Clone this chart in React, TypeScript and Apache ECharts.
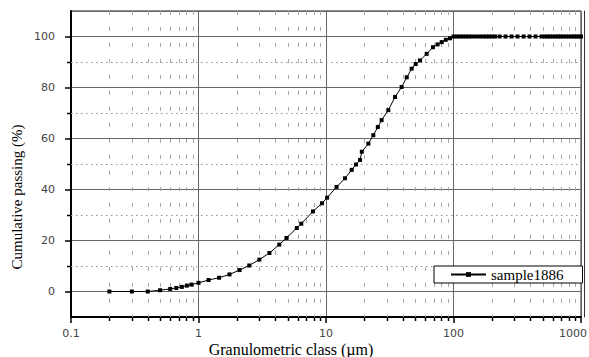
import React, { useEffect, useRef } from 'react';
import * as echarts from 'echarts';

// Granulometric class (µm)
const sizes = [
  0.2, 0.3, 0.4, 0.5, 0.6, 0.67, 0.74, 0.81, 0.88, 1.0,
  1.2, 1.45, 1.75, 2.1, 2.5, 3.0, 3.6, 4.3, 4.9, 5.9,
  6.4, 7.9, 9.3, 10.2, 12.1, 14.1, 15.9, 17.2, 18.5, 19.1,
  21.5, 23.5, 25.5, 27.3, 30.8, 34.8, 39.2, 43, 47, 50.5,
  54.6, 61.6, 69, 75, 80.8, 87, 93.9, 100, 106, 112,
  118, 125, 132, 140, 150, 160, 170, 180, 190, 200,
  212, 230, 256, 285, 318, 355, 395, 440, 490, 520,
  545, 570, 600, 630, 660, 690, 720, 760, 800, 840,
  880, 920, 960, 1000,
];
// Cumulative passing (%)
const passing = [
  0, 0, 0, 0.5, 1.0, 1.4, 1.8, 2.3, 2.7, 3.4,
  4.5, 5.4, 6.7, 8.4, 10.2, 12.5, 15.1, 18.4, 21.0, 24.9,
  26.6, 31.4, 34.6, 36.8, 41.0, 44.4, 47.7, 49.8, 51.6, 54.8,
  58.0, 61.3, 64.5, 67.2, 71.1, 76.3, 80.2, 84.0, 87.4, 89.2,
  90.6, 93.2, 95.8, 96.9, 97.8, 98.7, 99.3, 100, 100, 100,
  100, 100, 100, 100, 100, 100, 100, 100, 100, 100,
  100, 100, 100, 100, 100, 100, 100, 100, 100, 100,
  100, 100, 100, 100, 100, 100, 100, 100, 100, 100,
  100, 100, 100, 100,
];
const seriesName = 'sample1886';
const xTickLabels = ['0.1', '1', '10', '100', '1000'];
const minorX = [
  0.2, 0.3, 0.4, 0.5, 0.6, 0.7, 0.8, 0.9,
  2, 3, 4, 5, 6, 7, 8, 9,
  20, 30, 40, 50, 60, 70, 80, 90,
  200, 300, 400, 500, 600, 700, 800, 900,
];
const minorY = [10, 30, 50, 70, 90];
const xTitle = 'Granulometric class (µm)';
const yTitle = 'Cumulative passing (%)';

const serif = '"Liberation Serif", "Times New Roman", serif';
const sans = '"DejaVu Sans", Arial, sans-serif';

export default function App() {
  const ref = useRef<HTMLDivElement>(null);
  useEffect(() => {
    const chart = echarts.init(ref.current!, null, { renderer: 'svg' });
    const crisp = (v: number) => Math.round(v) + 0.5;
    chart.setOption({
      animation: false,
      backgroundColor: '#fff',
      grid: {
        left: 71, top: 11, width: 510, height: 306,
        show: true, borderColor: '#222', borderWidth: 1,
        containLabel: false, outerBoundsMode: 'none',
      },
      xAxis: [{
        type: 'log', logBase: 10, min: 0.1, max: 1000,
        axisLine: { show: true, onZero: false, lineStyle: { color: '#000', width: 2 } },
        axisTick: { show: true, length: 6, lineStyle: { color: '#000', width: 1.5 } },
        axisLabel: {
          margin: 11, color: '#444', fontFamily: sans, fontSize: 11,
          formatter: (v: number) => {
            const i = Math.round(Math.log10(v)) + 1;
            const t = xTickLabels[i] ?? '';
            return i === xTickLabels.length - 1 ? '{last|' + t + '}' : t;
          },
          rich: {
            last: { fontFamily: sans, fontSize: 11, color: '#444', padding: [0, 16, 0, 0] },
          },
        },
        splitLine: { show: true, lineStyle: { color: '#666', width: 1 } },
      }],
      yAxis: [{
        type: 'value', min: -10, max: 110,
        axisLine: { show: true, onZero: false, lineStyle: { color: '#000', width: 2 } },
        axisTick: { show: true, length: 6, lineStyle: { color: '#000', width: 1.5 } },
        axisLabel: {
          showMinLabel: false, showMaxLabel: false,
          margin: 16, color: '#444', fontFamily: sans, fontSize: 11,
        },
        splitLine: { show: true, lineStyle: { color: '#666', width: 1 } },
      }, {
        type: 'value', position: 'right', offset: 3, min: -10, max: 110,
        axisLine: { show: true, onZero: false, lineStyle: { color: '#333', width: 1 } },
        axisTick: { show: false }, axisLabel: { show: false }, splitLine: { show: false },
      }],
      legend: {
        left: 434, top: 266,
        data: [seriesName],
        itemWidth: 35, itemHeight: 6,
        padding: [1, 19, 1, 16],
        borderColor: '#000', borderWidth: 1, backgroundColor: '#fff',
        textStyle: { fontFamily: serif, fontSize: 15, color: '#000' },
      },
      graphic: [
        {
          type: 'text', x: 291, y: 349,
          style: { text: xTitle, fontFamily: serif, fontSize: 16, fill: '#000', align: 'center', verticalAlign: 'middle' },
        },
        {
          type: 'text', x: 17, y: 197, rotation: Math.PI / 2,
          style: { text: yTitle, fontFamily: serif, fontSize: 15, fill: '#000', align: 'center', verticalAlign: 'middle' },
        },
      ],
      series: [
        {
          type: 'custom', name: 'minorX', silent: true, z: 1, clip: false,
          data: minorX.map((x) => [x, -10]),
          renderItem: (_p: any, api: any) => {
            const x = api.value(0);
            const top = api.coord([x, 110]);
            const bot = api.coord([x, -10]);
            const px = crisp(top[0]);
            return {
              type: 'group',
              children: [
                { type: 'line', shape: { x1: px, y1: top[1], x2: px, y2: bot[1] }, style: { stroke: '#a8a8a8', lineWidth: 1, lineDash: [4, 12] } },
                { type: 'line', shape: { x1: px, y1: bot[1], x2: px, y2: bot[1] + 4 }, style: { stroke: '#000', lineWidth: 1.5 } },
              ],
            };
          },
        },
        {
          type: 'custom', name: 'minorY', silent: true, z: 1, clip: false,
          data: minorY.map((y) => [0.1, y]),
          renderItem: (_p: any, api: any) => {
            const y = api.value(1);
            const l = api.coord([0.1, y]);
            const r = api.coord([1000, y]);
            const py = crisp(l[1]);
            return {
              type: 'group',
              children: [
                { type: 'line', shape: { x1: l[0], y1: py, x2: r[0], y2: py }, style: { stroke: '#909090', lineWidth: 1, lineDash: [1.5, 3.5] } },
                { type: 'line', shape: { x1: l[0] - 4, y1: py, x2: l[0], y2: py }, style: { stroke: '#000', lineWidth: 1.5 } },
              ],
            };
          },
        },
        {
          type: 'line', name: seriesName, z: 5,
          data: sizes.map((s, i) => [s, passing[i]]),
          symbol: 'rect', symbolSize: 4,
          itemStyle: { color: '#000' },
          lineStyle: { color: '#000', width: 1 },
        },
      ],
    });
    return () => chart.dispose();
  }, []);
  return <div ref={ref} style={{ position: 'absolute', left: 0, top: 0, width: 589, height: 357 }} />;
}
